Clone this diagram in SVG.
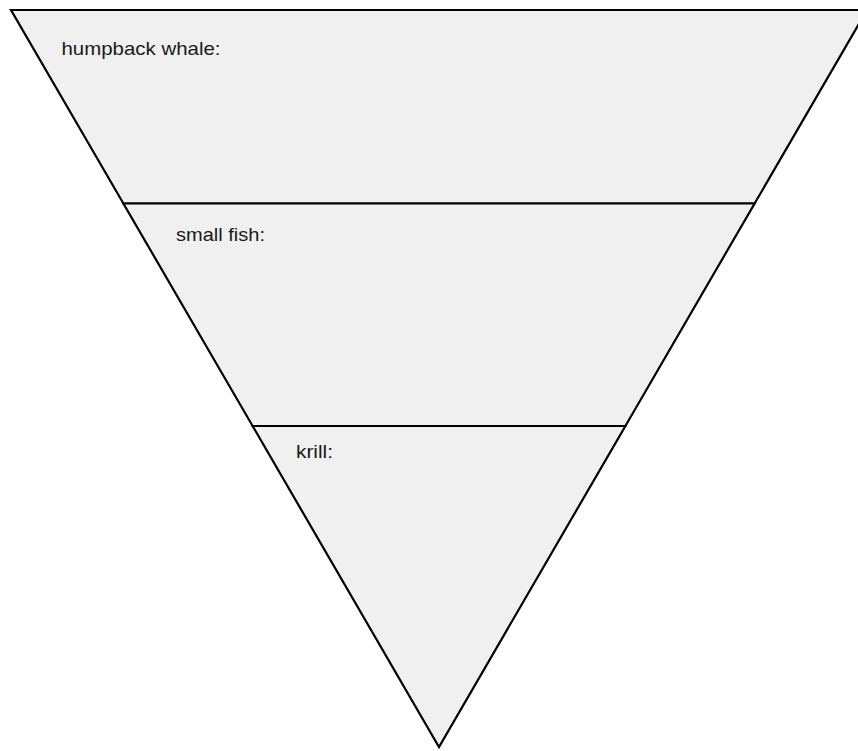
<svg xmlns="http://www.w3.org/2000/svg" width="858" height="751" viewBox="0 0 858 751">
<style>
.layer{fill:#f0f0f0;stroke:#000;stroke-width:2.2;stroke-linejoin:miter}
.lbl{font-family:"Liberation Sans",Arial,sans-serif;font-size:19px;fill:#1a1a1a}
</style>
<rect width="858" height="751" fill="#fff"/>
<g id="layer-humpback-whale">
<polygon class="layer" points="11,10 867,10 754.6,203.5 123.4,203.5"/>
<text class="lbl" x="61.5" y="55" textLength="159" lengthAdjust="spacingAndGlyphs">humpback whale:</text>
</g>
<g id="layer-small-fish">
<polygon class="layer" points="123.4,203.5 754.6,203.5 625.4,426 252.6,426"/>
<text class="lbl" x="176" y="240.5" textLength="89" lengthAdjust="spacingAndGlyphs">small fish:</text>
</g>
<g id="layer-krill">
<polygon class="layer" points="252.6,426 625.4,426 439,747"/>
<text class="lbl" x="296" y="457.5" textLength="37" lengthAdjust="spacingAndGlyphs">krill:</text>
</g>
<g id="connectors"></g>
</svg>
